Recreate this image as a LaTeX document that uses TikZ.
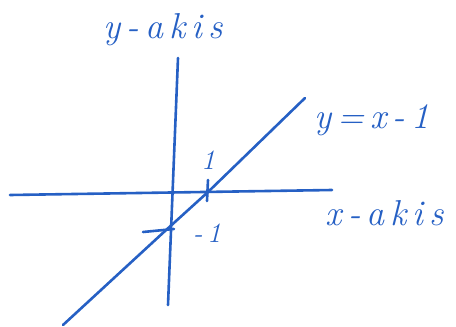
\documentclass[tikz,border=0pt]{standalone}
\usepackage{tikz}
\usepackage{xcolor}
\definecolor{penblue}{RGB}{38,96,196}

\begin{document}
\begin{tikzpicture}[x=1pt, y=-1pt, line width=2.6pt, penblue, line cap=round]
    \useasboundingbox (0,0) rectangle (456,327);
    \tikzset{hand/.style={penblue, font=\fontsize{36}{40}\selectfont\itshape},
             small hand/.style={penblue, font=\fontsize{28}{32}\selectfont\itshape}}

    % axes
    \coordinate (xl) at (10,195);
    \coordinate (xr) at (332,190);
    \coordinate (yt) at (178,58);
    \coordinate (yb) at (168,305);
    \draw (xl) -- (xr);
    \draw (yt) -- (yb);
    \node[hand] (ylab) at (163,30) {y\,-\,a\,k\,i\,s};
    \node[hand] (xlab) at (385,213) {x\,-\,a\,k\,i\,s};

    % graph of the line
    \coordinate (lo) at (63,325);
    \coordinate (p0) at (165,231);
    \coordinate (p1) at (208,192);
    \coordinate (hi) at (305,98);
    \draw (lo) -- (p0) -- (p1) -- (hi);
    \node[hand] (eq) at (372,120) {y\,=\,x\,-\,1};

    % intercepts
    \coordinate (t1a) at (208,180);
    \coordinate (t1b) at (207,201);
    \draw (t1a) -- (t1b);
    \node[small hand] (one) at (208,160) {1};
    \coordinate (t2a) at (143,232);
    \coordinate (t2b) at (174,229);
    \draw (t2a) -- (t2b);
    \node[small hand] (mone) at (207,233) {-\,1};
\end{tikzpicture}
\end{document}
